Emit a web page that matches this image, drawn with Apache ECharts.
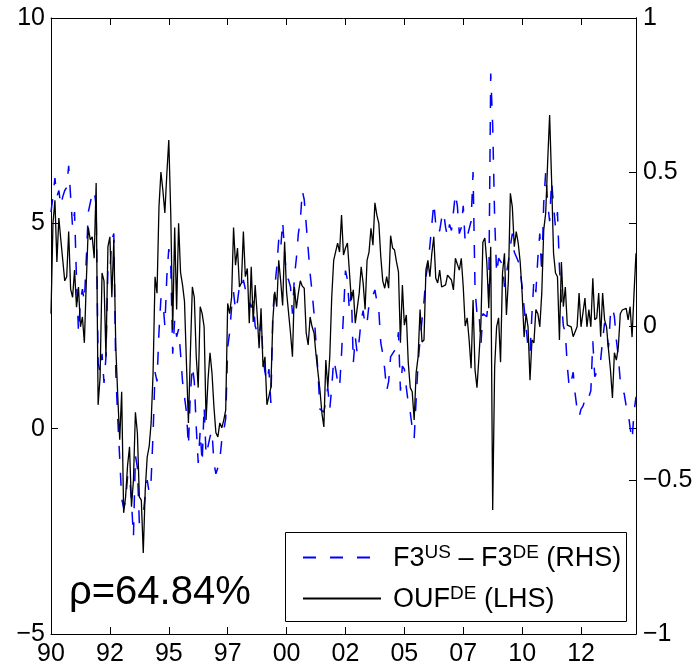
<!DOCTYPE html>
<html>
<head>
<meta charset="utf-8">
<script src="https://cdn.jsdelivr.net/npm/echarts@6/dist/echarts.min.js"></script>
<style>
html,body{margin:0;padding:0;background:#fff;}
#chart{width:700px;height:671px;}
</style>
</head>
<body>
<div id="chart"></div>
<script>
// ---- data (monthly, Jan 1990 onwards) ----
const startYear = 1990;
const xTickLabels = ['90','92','95','97','00','02','05','07','10','12'];
const leftTicks = [-5, 0, 5, 10];
const rightTicks = [-1, -0.5, 0, 0.5, 1];
const seriesNames = ['F3US', 'OUFDE'];

// F3^US - F3^DE (RHS)
const f3diff = [
 0.37, 0.42, 0.48, 0.42, 0.44, 0.39, 0.42, 0.44, 0.45, 0.52,
 0.42, 0.32, 0.37, 0.15, -0.02, 0.08, 0.12, 0.08, 0.22, 0.37,
 0.4, 0.43, 0.44, 0.39, -0.12, -0.15, -0.09, -0.185, -0.1, 0.19,
 0.18, 0.28, 0.3, -0.15, -0.3, -0.43, -0.56, -0.59, -0.57, -0.49,
 -0.48, -0.57, -0.685, -0.42, -0.46, -0.64, -0.62, -0.61, -0.55, -0.5,
 -0.54, -0.5, -0.35, -0.15, -0.18, -0.02, 0.09, 0.08, 0.0, 0.16,
 0.25, 0.2, -0.09, 0.02, -0.035, -0.01, -0.09, -0.18, -0.23, -0.28,
 -0.39, -0.22, -0.13, -0.18, -0.33, -0.445, -0.34, -0.445, -0.26, -0.42,
 -0.39, -0.36, -0.34, -0.445, -0.48, -0.46, -0.435, -0.37, -0.34, -0.3,
 -0.07, -0.02, 0.06, 0.11, 0.05, 0.08, 0.13, 0.12, 0.15, 0.12,
 0.11, 0.08, 0.06, 0.08, 0.0, -0.02, -0.035, 0.02, -0.1, -0.15,
 -0.18, -0.14, -0.25, 0.04, 0.127, 0.19, 0.28, 0.25, 0.34, 0.24,
 0.16, 0.15, 0.127, 0.04, 0.16, 0.22, 0.3, 0.34, 0.44, 0.41,
 0.33, 0.25, 0.17, 0.11, 0.04, -0.055, -0.15, -0.27, -0.27, -0.28,
 -0.24, -0.2, -0.27, -0.2, -0.11, -0.14, -0.18, -0.2, -0.09, 0.04,
 0.18, 0.15, 0.05, 0.11, -0.12, -0.035, -0.09, -0.045, 0.02, 0.05,
 0.0, 0.01, 0.07, 0.08, 0.1, 0.117, 0.08, 0.05, -0.055, -0.09,
 -0.14, -0.21, -0.18, -0.1, -0.09, -0.08, -0.07, -0.02, -0.21, -0.13,
 -0.14, -0.2, -0.25, -0.28, -0.33, -0.365, -0.24, -0.12, -0.045, 0.02,
 0.08, 0.16, 0.2, 0.26, 0.33, 0.4, 0.33, 0.3, 0.31, 0.35,
 0.37, 0.32, 0.29, 0.33, 0.31, 0.31, 0.43, 0.39, 0.3, 0.32,
 0.39, 0.27, 0.29, 0.29, 0.34, 0.5, 0.12, 0.04, 0.05, -0.06,
 0.04, 0.04, 0.03, 0.1, 0.82, 0.65, 0.35, 0.17, 0.22, 0.21,
 0.2, 0.127, 0.17, 0.21, 0.26, 0.3, 0.24, 0.24, 0.21, 0.18,
 0.127, 0.06, 0.0, -0.07, -0.09, 0.04, 0.15, 0.11, 0.22, 0.3,
 0.17, 0.4, 0.5, 0.4, 0.34, 0.47, 0.39, 0.32, 0.37, 0.19,
 0.08, 0.0, -0.02, -0.13, -0.2, -0.18, -0.15, -0.22, -0.27, -0.295,
 -0.27, -0.26, -0.24, -0.25, -0.23, -0.21, -0.05, -0.165, -0.15, -0.13,
 -0.11, -0.045, 0.01, -0.02, -0.07, 0.04, 0.06, 0.03, -0.045, -0.1,
 -0.18, -0.21, -0.22, -0.26, -0.28, -0.33, -0.37, -0.28, -0.23
];

// OUF^DE (LHS)
const ouf = [
 2.8, 5.0, 5.56, 4.06, 5.13, 4.6, 4.1, 3.6, 3.7, 4.8,
 3.4, 3.2, 3.86, 2.96, 3.45, 2.48, 2.72, 2.09, 3.6, 4.9,
 4.6, 4.67, 4.15, 5.98, 0.58, 1.25, 3.79, 3.6, 1.75, 4.43,
 4.67, 3.2, 4.6, 2.0, 0.8, -0.27, 0.9, -2.05, -1.66, -0.9,
 -0.44, -1.9, -1.25, 0.4, -0.1, -1.66, -1.74, -3.03, -1.5, -0.69,
 -0.44, 0.14, 1.36, 3.7, 3.3, 5.4, 6.25, 5.8, 5.25, 6.2,
 7.03, 5.25, 2.4, 4.9, 2.9, 5.0, 3.8, 3.5, 3.1, 1.6,
 0.14, 1.85, 3.45, 3.2, 1.75, 1.0, 2.97, 2.8, 2.48, 0.21,
 1.2, 1.85, 1.36, 0.53, -0.1, -0.2, 0.14, 0.02, 0.21, 0.45,
 3.05, 2.8, 3.2, 4.9, 3.98, 4.4, 3.45, 3.55, 4.8, 3.7,
 3.9, 2.57, 3.94, 2.6, 3.5, 2.8, 1.96, 2.93, 1.5, 1.75,
 0.58, 0.62, 1.0, 2.64, 3.33, 2.97, 4.1, 3.6, 3.0, 4.55,
 3.33, 3.36, 2.33, 1.75, 3.45, 2.93, 3.3, 3.6, 3.47, 3.42,
 2.33, 2.04, 2.72, 2.48, 2.33, 1.8, 1.8, 0.94, 0.38, 0.04,
 1.67, 1.0, 1.75, 3.2, 4.1, 4.1, 4.52, 4.3, 5.2, 4.23,
 4.4, 4.52, 4.52, 3.13, 3.38, 2.57, 2.6, 3.3, 3.94, 3.55,
 2.9, 4.1, 4.3, 4.88, 4.47, 5.5, 5.2, 5.0, 4.18, 3.6,
 3.42, 3.7, 3.42, 4.7, 4.4, 4.35, 4.06, 3.82, 2.09, 3.5,
 2.52, 2.77, 1.6, 1.0, 0.9, 0.21, 1.36, 1.75, 2.9, 2.11,
 2.16, 3.87, 4.1, 3.7, 4.27, 4.67, 3.66, 3.55, 3.86, 3.45,
 3.42, 3.5, 3.74, 3.7, 3.62, 3.38, 4.15, 4.18, 3.86, 4.15,
 3.45, 2.5, 2.7, 2.16, 1.47, 3.13, 1.43, 1.0, 1.75, 2.57,
 4.54, 4.64, 4.06, 2.93, 4.43, -1.98, 1.5, 2.48, 2.7, 1.62,
 3.79, 4.27, 2.77, 3.62, 5.73, 5.4, 4.43, 4.8, 4.52, 4.06,
 3.3, 2.23, 2.8, 2.48, 1.18, 2.16, 2.09, 2.9, 2.8, 2.48,
 3.3, 4.84, 5.25, 6.5, 7.64, 6.06, 4.27, 3.79, 3.7, 2.16,
 4.06, 2.97, 3.45, 2.52, 2.48, 2.48, 2.24, 2.36, 2.48, 3.3,
 2.48, 2.48, 3.18, 2.48, 2.9, 2.48, 3.66, 2.65, 2.7, 3.3,
 2.24, 3.3, 2.65, 2.48, 1.92, 1.43, 0.75, 1.85, 1.67, 1.99,
 2.8, 2.89, 2.89, 2.93, 2.65, 2.97, 2.23, 3.3, 4.27
];
const rhoText = 'ρ=64.84%';

// ---- build ----
const FONT = '"Liberation Sans", Arial, Helvetica, sans-serif';
const toXY = arr => arr.map((v, i) => [startYear + i / 12, v]);
const xMin = startYear;
const xMax = startYear + (ouf.length - 1) / 12;
const minusFmt = v => (v < 0 ? '\u2212' + Math.abs(v) : String(v));
const xFmt = v => xTickLabels[Math.round((v - startYear) / 2.5)] || '';

const chart = echarts.init(document.getElementById('chart'), null, {renderer: 'canvas'});
const axisCommon = {
  axisLine: {show: true, onZero: false, lineStyle: {color: '#000', width: 1}},
  axisTick: {show: true, inside: true, length: 7, lineStyle: {color: '#000', width: 1}},
  splitLine: {show: false}
};
chart.setOption({
  animation: false,
  backgroundColor: '#fff',
  title: {
    text: rhoText, left: 64, top: 568,
    textStyle: {fontFamily: FONT, fontSize: 40, fontWeight: 'normal', color: '#000'}
  },
  grid: {left: 51, right: 64, top: 18, bottom: 37, containLabel: false},
  xAxis: [
    Object.assign({
      type: 'value', min: xMin, max: xMax, interval: 2.5, position: 'bottom',
      axisLabel: {formatter: xFmt, fontFamily: FONT, fontSize: 25, color: '#000', margin: 8, showMaxLabel: false}
    }, axisCommon),
    Object.assign({
      type: 'value', min: xMin, max: xMax, interval: 2.5, position: 'top',
      axisLabel: {show: false}
    }, axisCommon)
  ],
  yAxis: [
    Object.assign({
      type: 'value', min: leftTicks[0], max: leftTicks[leftTicks.length - 1], interval: 5, position: 'left',
      axisLabel: {formatter: minusFmt, fontFamily: FONT, fontSize: 25, color: '#000', margin: 6}
    }, axisCommon),
    Object.assign({
      type: 'value', min: rightTicks[0], max: rightTicks[rightTicks.length - 1], interval: 0.5, position: 'right',
      axisLabel: {formatter: minusFmt, fontFamily: FONT, fontSize: 25, color: '#000', margin: 7}
    }, axisCommon),
    Object.assign({
      type: 'value', min: leftTicks[0], max: leftTicks[leftTicks.length - 1], interval: 5, position: 'right',
      axisLabel: {show: false}
    }, axisCommon)
  ],
  legend: {
    orient: 'vertical', left: 285, top: 532,
    padding: [11, 10, 9, 17],
    itemWidth: 78, itemHeight: 14, itemGap: 12,
    data: seriesNames.map(n => ({name: n, itemStyle: {opacity: 0}})),
    itemStyle: {opacity: 0},
    backgroundColor: 'transparent', borderWidth: 0,
    formatter: name => name === 'F3US'
      ? '{n|F3}{s|US}{n| \u2013 F3}{s|DE}{n| (RHS)}'
      : '{n|OUF}{s|DE}{n| (LHS)}',
    textStyle: {
      padding: [0, 0, 0, 7],
      rich: {
        n: {fontFamily: FONT, fontSize: 27, color: '#000', lineHeight: 29, verticalAlign: 'bottom'},
        s: {fontFamily: FONT, fontSize: 19, color: '#000', lineHeight: 29, verticalAlign: 'top'}
      }
    }
  },
  graphic: [{
    type: 'rect', z: 3, silent: true,
    shape: {x: 285.5, y: 532.5, width: 341, height: 89},
    style: {fill: '#fff', stroke: '#000', lineWidth: 1}
  }],
  series: [
    {
      name: seriesNames[0], type: 'line', xAxisIndex: 0, yAxisIndex: 1,
      data: toXY(f3diff), symbol: 'none', showSymbol: false, smooth: false,
      lineStyle: {color: '#0000ff', width: 1.5, type: [13, 14]},
      itemStyle: {color: '#0000ff'}, z: 1
    },
    {
      name: seriesNames[1], type: 'line', xAxisIndex: 0, yAxisIndex: 0,
      data: toXY(ouf), symbol: 'none', showSymbol: false, smooth: false,
      lineStyle: {color: '#000', width: 1.3},
      itemStyle: {color: '#000'}, z: 2
    }
  ]
});
</script>
</body>
</html>
